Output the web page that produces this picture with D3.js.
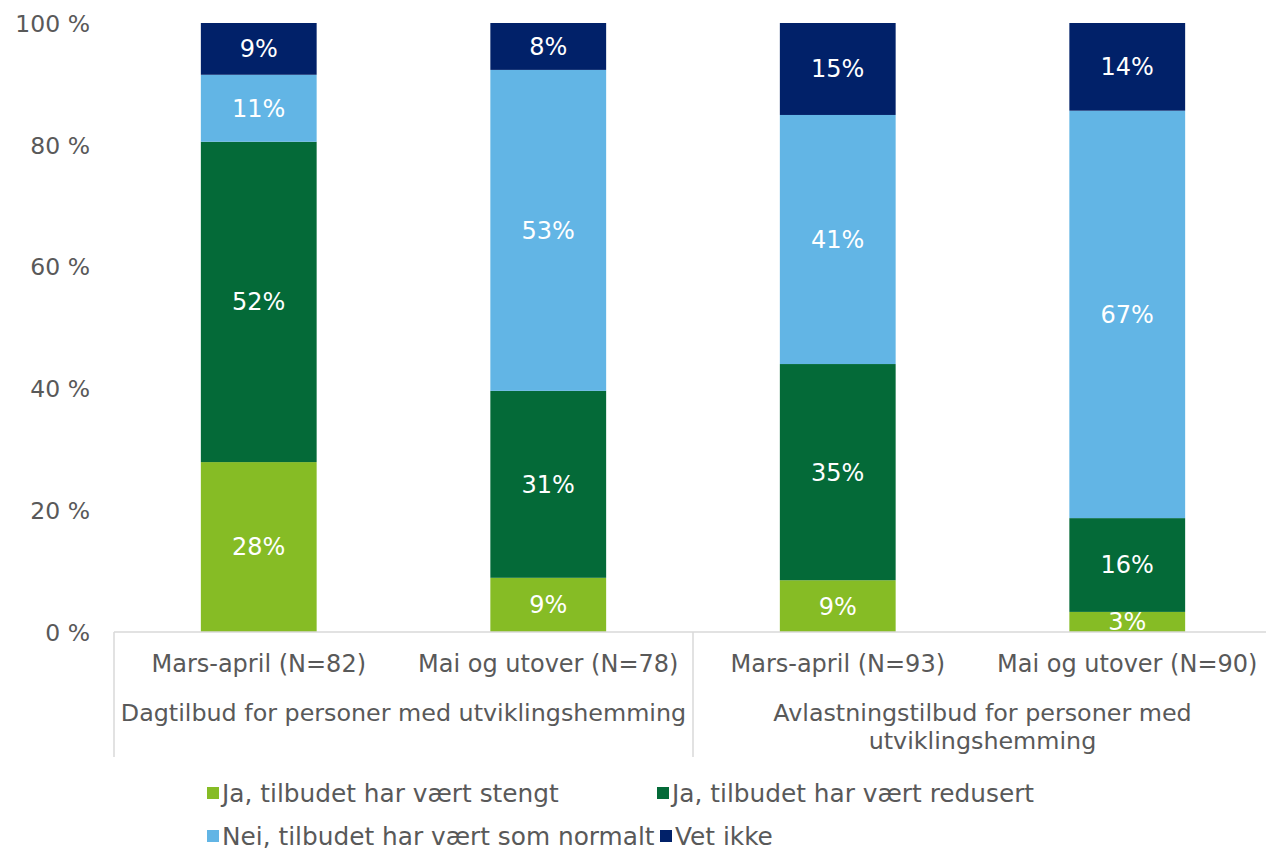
<!DOCTYPE html>
<html>
<head>
<meta charset="utf-8">
<script src="https://cdn.jsdelivr.net/npm/d3@7"></script>
<style>
  body { margin: 0; background: #fff; }
  svg text { font-family: "DejaVu Sans", Verdana, sans-serif; }
</style>
</head>
<body>
<div id="chart"></div>
<script>
var categories = ["Mars-april (N=82)", "Mai og utover (N=78)", "Mars-april (N=93)", "Mai og utover (N=90)"];
var groups = [["Dagtilbud for personer med utviklingshemming"], ["Avlastningstilbud for personer med", "utviklingshemming"]];
var series = ["Ja, tilbudet har vært stengt", "Ja, tilbudet har vært redusert", "Nei, tilbudet har vært som normalt", "Vet ikke"];
var stengt   = [27.9, 8.9, 8.5, 3.3];
var redusert = [52.6, 30.7, 35.5, 15.4];
var normalt  = [11.0, 52.7, 40.9, 66.9];
var vetIkke  = [8.5, 7.7, 15.1, 14.4];
var labels = [
  ["28%", "9%", "9%", "3%"],
  ["52%", "31%", "35%", "16%"],
  ["11%", "53%", "41%", "67%"],
  ["9%", "8%", "15%", "14%"]
];
var yTicks = [0, 20, 40, 60, 80, 100];
var colors = ["#86bc25", "#046a38", "#62b5e5", "#012169"];

var width = 1266, height = 848;
var margin = {left: 114, right: 1272, top: 23, bottom: 632};
var fontSize = "24px";

var rows = categories.map(function(c, i) {
  return {cat: c, s0: stengt[i], s1: redusert[i], s2: normalt[i], s3: vetIkke[i]};
});
var keys = ["s0", "s1", "s2", "s3"];

var x = d3.scaleBand()
    .domain(categories.map(function(c, i) { return i; }))
    .range([margin.left, margin.right])
    .paddingInner(0.6)
    .paddingOuter(0.3);

var y = d3.scaleLinear()
    .domain([0, 100])
    .range([margin.bottom, margin.top]);

var svg = d3.select("#chart")
  .append("svg")
    .attr("width", width)
    .attr("height", height);

var stack = d3.stack().keys(keys)(rows);

// y axis labels only
var yAxis = svg.append("g")
    .attr("transform", "translate(" + (margin.left - 24) + ",0)")
    .call(d3.axisLeft(y).tickValues(yTicks).tickSize(0).tickFormat(function(d) { return d + " %"; }));
yAxis.select(".domain").remove();
yAxis.selectAll("text")
    .attr("fill", "#595959")
    .attr("font-size", "23.5px")
    .attr("x", 0)
    .attr("dy", "0.35em");

var layer = svg.append("g")
  .selectAll("g")
  .data(stack)
  .enter()
  .append("g")
    .attr("fill", function(d, i) { return colors[i]; });

layer.selectAll("rect")
    .data(function(d) { return d; })
    .enter()
  .append("rect")
    .attr("x", function(d, i) { return x(i); })
    .attr("y", function(d) { return y(d[1]); })
    .attr("width", x.bandwidth())
    .attr("height", function(d) { return y(d[0]) - y(d[1]); });

layer.selectAll("text")
    .data(function(d, si) { return d.map(function(v, i) { return {v: v, si: si, i: i}; }); })
    .enter()
  .append("text")
    .attr("x", function(d) { return x(d.i) + x.bandwidth() / 2; })
    .attr("y", function(d) { return (y(d.v[0]) + y(d.v[1])) / 2; })
    .attr("dy", "0.35em")
    .attr("text-anchor", "middle")
    .attr("fill", "#fff")
    .attr("font-size", fontSize)
    .text(function(d) { return labels[d.si][d.i]; });

// category axis
svg.append("line")
    .attr("x1", margin.left).attr("x2", margin.right)
    .attr("y1", margin.bottom).attr("y2", margin.bottom)
    .attr("stroke", "#d9d9d9").attr("stroke-width", 1.5);

var groupEdges = [0, 2, 4];
svg.append("g")
  .selectAll("line")
  .data(groupEdges)
  .enter()
  .append("line")
    .attr("x1", function(d) { return margin.left + d * x.step(); })
    .attr("x2", function(d) { return margin.left + d * x.step(); })
    .attr("y1", margin.bottom)
    .attr("y2", 757)
    .attr("stroke", "#d9d9d9").attr("stroke-width", 1.5);

svg.append("g")
  .selectAll("text")
  .data(categories)
  .enter()
  .append("text")
    .attr("x", function(d, i) { return x(i) + x.bandwidth() / 2; })
    .attr("y", 664)
    .attr("dy", "0.35em")
    .attr("text-anchor", "middle")
    .attr("fill", "#595959")
    .attr("font-size", fontSize)
    .text(function(d) { return d; });

svg.append("g")
  .selectAll("text")
  .data(groups)
  .enter()
  .append("text")
    .attr("x", function(d, g) { return margin.left + (g * 2 + 1) * x.step(); })
    .attr("y", 713)
    .attr("text-anchor", "middle")
    .attr("fill", "#595959")
    .attr("font-size", "23.8px")
  .selectAll("tspan")
    .data(function(d) { return d; })
    .enter()
  .append("tspan")
    .attr("x", function() { return d3.select(this.parentNode).attr("x"); })
    .attr("dy", function(d, i) { return i === 0 ? "0.35em" : "28px"; })
    .text(function(d) { return d; });

// legend
var legendPos = [[207, 793], [657, 793], [207, 836], [660, 836]];
var legend = svg.append("g")
  .selectAll("g")
  .data(series)
  .enter()
  .append("g")
    .attr("transform", function(d, i) { return "translate(" + legendPos[i][0] + "," + legendPos[i][1] + ")"; });

legend.append("rect")
    .attr("x", 0).attr("y", -6)
    .attr("width", 12).attr("height", 12)
    .attr("fill", function(d, i) { return colors[i]; });

legend.append("text")
    .attr("x", 15)
    .attr("dy", "0.35em")
    .attr("fill", "#595959")
    .attr("font-size", "24.8px")
    .text(function(d) { return d; });
</script>
</body>
</html>
